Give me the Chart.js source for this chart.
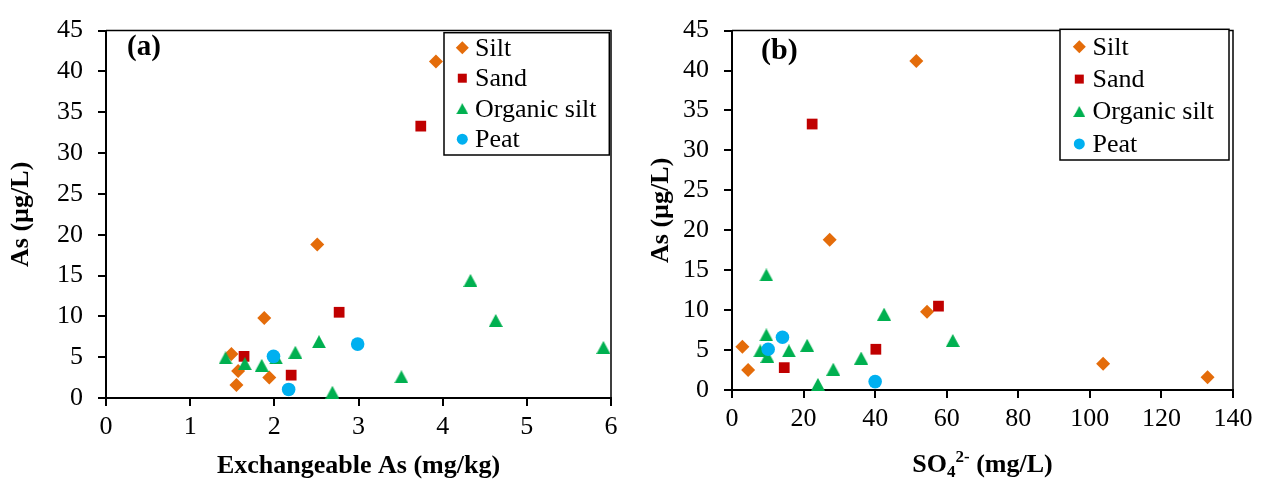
<!DOCTYPE html>
<html>
<head>
<meta charset="utf-8">
<title>As vs exchangeable As and sulfate</title>
<script src="https://cdn.jsdelivr.net/npm/chart.js@4/dist/chart.umd.min.js"></script>
<style>
  html, body { margin: 0; padding: 0; background: #fff; }
  #wrap { position: relative; width: 1263px; height: 486px; overflow: hidden; }
  .panel { position: absolute; top: 0; height: 486px; }
  #panelA { left: 0; width: 640px; }
  #panelB { left: 640px; width: 623px; }
  canvas { display: block; }
</style>
</head>
<body>
<div id="wrap">
  <div class="panel" id="panelA"><canvas id="chartA" width="640" height="486"></canvas></div>
  <div class="panel" id="panelB"><canvas id="chartB" width="623" height="486"></canvas></div>
</div>
<script>
// ---- data ----------------------------------------------------------------
const soilTypes = ['Silt', 'Sand', 'Organic silt', 'Peat'];

// dissolved As (µg/L) per sample, by soil type
const asSilt     = [41.2, 18.8, 9.8, 5.4, 3.3, 2.5, 1.6];
const asSand     = [33.3, 10.5, 5.1, 2.8];
const asOrgSilt  = [14.4, 9.5, 6.2, 6.9, 5.6, 2.6, 0.7, 4.9, 4.9, 4.2, 4.0];
const asPeat     = [6.6, 5.1, 1.05];

// exchangeable As (mg/kg), same sample order
const exchSilt    = [3.92, 2.51, 1.88, 1.49, 1.57, 1.94, 1.55];
const exchSand    = [3.74, 2.77, 1.64, 2.20];
const exchOrgSilt = [4.33, 4.63, 5.91, 2.53, 2.25, 3.51, 2.69, 1.42, 2.02, 1.65, 1.85];
const exchPeat    = [2.99, 1.99, 2.17];

// sulfate (mg/L), same sample order
const so4Silt    = [51.5, 27.3, 54.5, 2.9, 103.7, 4.5, 132.9];
const so4Sand    = [22.4, 57.7, 40.2, 14.6];
const so4OrgSilt = [9.6, 42.5, 61.7, 9.6, 21.0, 28.3, 24.0, 7.9, 15.9, 9.9, 36.1];
const so4Peat    = [14.1, 10.1, 40.0];

// axis ranges / tick steps
const yTicks  = { min: 0, max: 45, step: 5 };
const xTicksA = { min: 0, max: 6, step: 1 };
const xTicksB = { min: 0, max: 140, step: 20 };

// ---- styling ---------------------------------------------------------------
const FONT = '"Liberation Serif", "Times New Roman", Times, serif';
const COLORS = ['#E46C0A', '#C00000', '#00B050', '#00B0F0'];

function makeTriangle(w, h, color) {
  const c = document.createElement('canvas');
  c.width = w; c.height = h;
  const g = c.getContext('2d');
  g.fillStyle = color;
  g.beginPath();
  g.moveTo(w / 2, 0);
  g.lineTo(w, h);
  g.lineTo(0, h);
  g.closePath();
  g.fill();
  return c;
}
const triangleMarker = makeTriangle(14, 13, COLORS[2]);

const markerStyles = [
  { pointStyle: 'rectRot', radius: 7 },
  { pointStyle: 'rect', radius: 7.6 },
  { pointStyle: triangleMarker, radius: 7 },
  { pointStyle: 'circle', radius: 6.8 }
];

function buildDatasets(xSeries) {
  const ySeries = [asSilt, asSand, asOrgSilt, asPeat];
  return soilTypes.map((name, i) => ({
    label: name,
    data: xSeries[i].map((x, j) => ({ x: x, y: ySeries[i][j] })),
    pointStyle: markerStyles[i].pointStyle,
    pointRadius: markerStyles[i].radius,
    pointHoverRadius: markerStyles[i].radius,
    backgroundColor: COLORS[i],
    borderColor: COLORS[i],
    pointBorderWidth: 0,
    showLine: false,
    clip: false,
    order: soilTypes.length - 1 - i
  }));
}

// ---- plugins ---------------------------------------------------------------
// top and right edges of the plot frame
const plotFrame = {
  id: 'plotFrame',
  beforeDatasetsDraw(chart) {
    const { ctx, chartArea: a } = chart;
    ctx.save();
    ctx.strokeStyle = '#000';
    ctx.lineWidth = 1.5;
    ctx.beginPath();
    ctx.moveTo(a.left, a.top);
    ctx.lineTo(a.right, a.top);
    ctx.lineTo(a.right, a.bottom);
    ctx.stroke();
    ctx.restore();
  }
};

function drawLegendMarker(ctx, i, x, y) {
  ctx.fillStyle = COLORS[i];
  ctx.beginPath();
  if (i === 0) {
    const r = 6.5;
    ctx.moveTo(x - r, y); ctx.lineTo(x, y - r); ctx.lineTo(x + r, y); ctx.lineTo(x, y + r);
    ctx.closePath(); ctx.fill();
  } else if (i === 1) {
    const s = 9;
    ctx.rect(x - s / 2, y - s / 2, s, s); ctx.fill();
  } else if (i === 2) {
    ctx.drawImage(triangleMarker, x - 6, y - 5.5, 12, 11);
  } else {
    ctx.arc(x, y, 5.5, 0, Math.PI * 2); ctx.fill();
  }
}

// boxed legend placed inside the plot
const boxedLegend = {
  id: 'boxedLegend',
  afterDatasetsDraw(chart, args, opts) {
    const ctx = chart.ctx;
    ctx.save();
    ctx.fillStyle = '#fff';
    ctx.fillRect(opts.left, opts.top, opts.width, opts.height);
    ctx.strokeStyle = '#000';
    ctx.lineWidth = 1.5;
    ctx.strokeRect(opts.left, opts.top, opts.width, opts.height);
    chart.data.datasets.forEach((ds, i) => {
      const cy = opts.firstRow + i * opts.rowGap;
      drawLegendMarker(ctx, i, opts.markerX, cy);
      ctx.fillStyle = '#000';
      ctx.font = '26px ' + FONT;
      ctx.textBaseline = 'middle';
      ctx.textAlign = 'left';
      ctx.fillText(ds.label, opts.textX, cy + 1);
    });
    ctx.restore();
  }
};

// panel tag such as "(a)"
const panelTag = {
  id: 'panelTag',
  afterDraw(chart, args, opts) {
    const ctx = chart.ctx;
    ctx.save();
    ctx.fillStyle = '#000';
    ctx.font = 'bold ' + opts.size + 'px ' + FONT;
    ctx.textBaseline = 'middle';
    ctx.textAlign = 'left';
    ctx.fillText(opts.text, opts.x, opts.y);
    ctx.restore();
  }
};

// x-axis title with sub- and superscripts
const richXTitle = {
  id: 'richXTitle',
  afterDraw(chart, args, opts) {
    if (!opts.parts) return;
    const { ctx, chartArea: a } = chart;
    ctx.save();
    ctx.fillStyle = '#000';
    ctx.textBaseline = 'alphabetic';
    ctx.textAlign = 'left';
    let total = 0;
    opts.parts.forEach(p => {
      ctx.font = 'bold ' + p.size + 'px ' + FONT;
      p.w = ctx.measureText(p.text).width;
      total += p.w;
    });
    let x = (a.left + a.right) / 2 - total / 2;
    opts.parts.forEach(p => {
      ctx.font = 'bold ' + p.size + 'px ' + FONT;
      ctx.fillText(p.text, x, opts.baseline + p.dy);
      x += p.w;
    });
    ctx.restore();
  }
};

Chart.register(plotFrame, boxedLegend, panelTag, richXTitle);

// ---- shared axis builders --------------------------------------------------
function yAxis(width) {
  return {
    type: 'linear',
    position: 'left',
    min: yTicks.min, max: yTicks.max,
    ticks: { stepSize: yTicks.step, color: '#000', padding: 15,
             font: { family: FONT, size: 26, lineHeight: 1.2 } },
    grid: { drawOnChartArea: false, drawTicks: true, tickLength: 8,
            color: '#000', lineWidth: 2 },
    border: { display: true, color: '#000', width: 2 },
    title: { display: true, text: 'As (µg/L)', color: '#000',
             font: { family: FONT, size: 26, weight: 'bold', lineHeight: 1.2 },
             padding: { top: 6, bottom: 0 } },
    afterFit(scale) { scale.width = width; }
  };
}

function xAxis(range, height, titleText) {
  return {
    type: 'linear',
    position: 'bottom',
    min: range.min, max: range.max,
    ticks: { stepSize: range.step, color: '#000', padding: 6, maxRotation: 0,
             autoSkip: false, font: { family: FONT, size: 26, lineHeight: 1.2 } },
    grid: { drawOnChartArea: false, drawTicks: true, tickLength: 8,
            color: '#000', lineWidth: 2 },
    border: { display: true, color: '#000', width: 2 },
    title: { display: !!titleText, text: titleText || '', color: '#000',
             font: { family: FONT, size: 26, weight: 'bold', lineHeight: 1.2 },
             padding: { top: 0, bottom: 4 } },
    afterFit(scale) { scale.height = height; }
  };
}

const common = {
  responsive: false,
  animation: false,
  events: [],
  devicePixelRatio: 1
};

// ---- (a) As vs exchangeable As --------------------------------------------
new Chart(document.getElementById('chartA'), {
  type: 'scatter',
  data: { datasets: buildDatasets([exchSilt, exchSand, exchOrgSilt, exchPeat]) },
  options: Object.assign({}, common, {
    layout: { padding: { left: 0, top: 20, right: 29, bottom: 0 } },
    scales: {
      x: xAxis(xTicksA, 88, 'Exchangeable As (mg/kg)'),
      y: yAxis(106)
    },
    plugins: {
      legend: { display: false },
      tooltip: { enabled: false },
      boxedLegend: { left: 444, top: 32.7, width: 165.3, height: 122.3,
                     markerX: 462.3, textX: 475, firstRow: 47.7, rowGap: 30.5 },
      panelTag: { text: '(a)', x: 127, y: 48, size: 29 },
      richXTitle: {}
    }
  })
});

// ---- (b) As vs sulfate -------------------------------------------------------
new Chart(document.getElementById('chartB'), {
  type: 'scatter',
  data: { datasets: buildDatasets([so4Silt, so4Sand, so4OrgSilt, so4Peat]) },
  options: Object.assign({}, common, {
    layout: { padding: { left: 0, top: 20, right: 30, bottom: 0 } },
    scales: {
      x: xAxis(xTicksB, 96, ''),
      y: yAxis(92)
    },
    plugins: {
      legend: { display: false },
      tooltip: { enabled: false },
      boxedLegend: { left: 420, top: 29.3, width: 169, height: 130.7,
                     markerX: 439.3, textX: 452.5, firstRow: 46.7, rowGap: 32.4 },
      panelTag: { text: '(b)', x: 121, y: 51, size: 30 },
      richXTitle: {
        baseline: 472,
        parts: [
          { text: 'SO', size: 26, dy: 0 },
          { text: '4', size: 17, dy: 5 },
          { text: '2-', size: 17, dy: -10 },
          { text: ' (mg/L)', size: 26, dy: 0 }
        ]
      }
    }
  })
});
</script>
</body>
</html>
